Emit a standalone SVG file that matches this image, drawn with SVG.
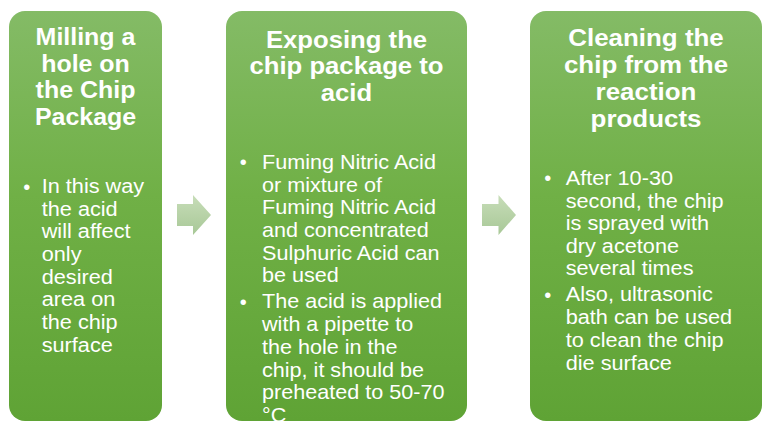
<svg xmlns="http://www.w3.org/2000/svg" width="769" height="434" viewBox="0 0 769 434">
  <defs>
    <linearGradient id="boxGrad" x1="0" y1="0" x2="0" y2="1">
      <stop offset="0" stop-color="#84bb66"/>
      <stop offset="0.45" stop-color="#70b046"/>
      <stop offset="1" stop-color="#5fa335"/>
    </linearGradient>
    <linearGradient id="arrowGrad" x1="0" y1="0" x2="0" y2="1">
      <stop offset="0" stop-color="#c7ddb8"/>
      <stop offset="1" stop-color="#a8c897"/>
    </linearGradient>
  </defs>
  <style>
    .box { fill: url(#boxGrad); }
    .arrow { fill: url(#arrowGrad); }
    .title { font-family: "Liberation Sans", Arial, sans-serif; font-weight: bold; font-size: 24px; fill: #ffffff; text-anchor: middle; }
    .body { font-family: "Liberation Sans", Arial, sans-serif; font-size: 20px; fill: #ffffff; }
    .bullet { font-family: "Liberation Sans", Arial, sans-serif; font-size: 20px; fill: #ffffff; text-anchor: middle; }
  </style>
  <rect width="769" height="434" fill="#ffffff"/>

  <g id="connectors">
    <path class="arrow" d="M177,204 H193 V195 L211,215 L193,235 V226 H177 Z"/>
    <path class="arrow" d="M482,204 H498.5 V195 L516,215 L498.5,235 V226 H482 Z"/>
  </g>

  <g id="node1">
    <rect class="box" x="9" y="11" width="153" height="410" rx="16" ry="16"/>
    <g transform="translate(85.5 0) scale(1.04 1)">
      <text class="title" x="0" y="45">Milling a</text>
      <text class="title" x="0" y="71.7">hole on</text>
      <text class="title" x="0" y="98.4">the Chip</text>
      <text class="title" x="0" y="125">Package</text>
    </g>
    <text class="bullet" x="26.7" y="193.5">•</text>
    <g transform="translate(41.7 0) scale(1.085 1)">
      <text class="body" x="0" y="193.5">In this way</text>
      <text class="body" x="0" y="216">the acid</text>
      <text class="body" x="0" y="238.5">will affect</text>
      <text class="body" x="0" y="261">only</text>
      <text class="body" x="0" y="283.6">desired</text>
      <text class="body" x="0" y="306.4">area on</text>
      <text class="body" x="0" y="329">the chip</text>
      <text class="body" x="0" y="351.6">surface</text>
    </g>
  </g>

  <g id="node2">
    <rect class="box" x="226" y="11" width="241" height="410" rx="16" ry="16"/>
    <g transform="translate(346.5 0) scale(1.07 1)">
      <text class="title" x="0" y="48">Exposing the</text>
      <text class="title" x="0" y="74.5">chip package to</text>
      <text class="title" x="0" y="101">acid</text>
    </g>
    <text class="bullet" x="243.3" y="169">•</text>
    <text class="bullet" x="243.3" y="308.5">•</text>
    <g transform="translate(262 0) scale(1.08 1)">
      <text class="body" x="0" y="169">Fuming Nitric Acid</text>
      <text class="body" x="0" y="191.7">or mixture of</text>
      <text class="body" x="0" y="214.4">Fuming Nitric Acid</text>
      <text class="body" x="0" y="237.1">and concentrated</text>
      <text class="body" x="0" y="259.8">Sulphuric Acid can</text>
      <text class="body" x="0" y="282.5">be used</text>
      <text class="body" x="0" y="308.5">The acid is applied</text>
      <text class="body" x="0" y="331.2">with a pipette to</text>
      <text class="body" x="0" y="353.9">the hole in the</text>
      <text class="body" x="0" y="376.6">chip, it should be</text>
      <text class="body" x="0" y="399.3">preheated to 50-70</text>
      <text class="body" x="0" y="422">°C</text>
    </g>
  </g>

  <g id="node3">
    <rect class="box" x="530" y="11" width="232" height="410" rx="16" ry="16"/>
    <g transform="translate(646 0) scale(1.08 1)">
      <text class="title" x="0" y="46.5">Cleaning the</text>
      <text class="title" x="0" y="73.2">chip from the</text>
      <text class="title" x="0" y="99.9">reaction</text>
      <text class="title" x="0" y="126.6">products</text>
    </g>
    <text class="bullet" x="547.7" y="185">•</text>
    <text class="bullet" x="547.7" y="301.5">•</text>
    <g transform="translate(565.7 0) scale(1.085 1)">
      <text class="body" x="0" y="185">After 10-30</text>
      <text class="body" x="0" y="207.6">second, the chip</text>
      <text class="body" x="0" y="230.2">is sprayed with</text>
      <text class="body" x="0" y="252.8">dry acetone</text>
      <text class="body" x="0" y="275.4">several times</text>
      <text class="body" x="0" y="301.5">Also, ultrasonic</text>
      <text class="body" x="0" y="324.5">bath can be used</text>
      <text class="body" x="0" y="347.5">to clean the chip</text>
      <text class="body" x="0" y="370.5">die surface</text>
    </g>
  </g>
</svg>
